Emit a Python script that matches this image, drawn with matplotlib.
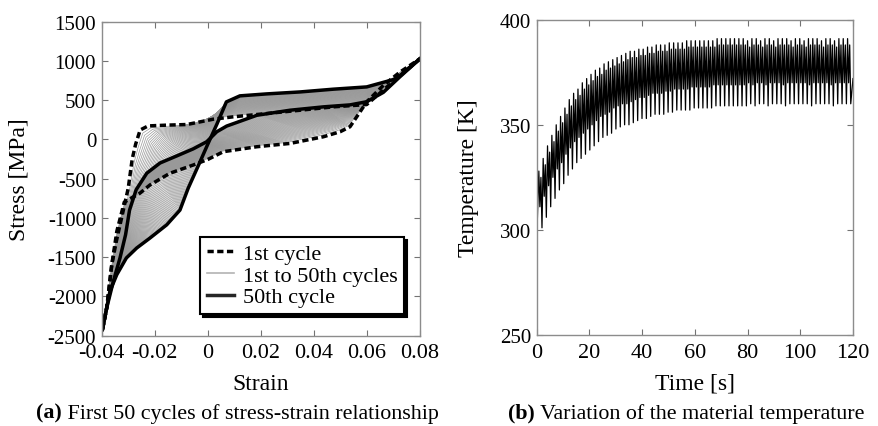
import numpy as np
import matplotlib
matplotlib.use('Agg')
import matplotlib.pyplot as plt

plt.rcParams['font.family'] = ['Liberation Serif', 'DejaVu Serif']
plt.rcParams['axes.unicode_minus'] = False

# ---- (a) stress-strain, 1st and 50th cycle ----
# upper branch: from max tension down to max compression
c1_up_strain = [0.08, 0.07, 0.0599, 0.0473, 0.0348, 0.0222, 0.0096, 0.0021, -0.0079, -0.0155,
                -0.0225, -0.0255, -0.0272, -0.0285, -0.030, -0.0325, -0.0345, -0.0362, -0.0381, -0.0397]
c1_up_stress = [1028, 740, 444, 415, 372, 330, 288, 258, 190, 182,
                172, 120, -60, -250, -622, -1000, -1300, -1595, -2145, -2420]
c50_up_strain = [0.08, 0.0712, 0.0599, 0.0473, 0.0348, 0.0222, 0.0121, 0.007, 0.0035, 0.0,
                 -0.0029, -0.0074, -0.0105, -0.0155, -0.0218, -0.0268, -0.0307, -0.0343, -0.0369, -0.0397]
c50_up_stress = [1028, 774, 669, 640, 605, 580, 555, 478, 200, -60,
                 -283, -622, -900, -1088, -1256, -1383, -1510, -1722, -1933, -2420]
# lower branch: from max compression back up to max tension
c1_lo_strain = [-0.0397, -0.0381, -0.0362, -0.0343, -0.0315, -0.0285, -0.0256, -0.0218, -0.0143, -0.0055, 0.0,
                0.0059, 0.0185, 0.031, 0.0436, 0.0499, 0.0536, 0.0574, 0.0599, 0.0662, 0.0725, 0.08]
c1_lo_stress = [-2420, -2145, -1595, -1171, -800, -740, -685, -580, -431, -326, -255,
                -156, -93, -51, 34, 98, 161, 351, 478, 689, 859, 1028]
c50_lo_strain = [-0.0397, -0.0381, -0.0356, -0.0331, -0.0310, -0.0295, -0.0270, -0.023, -0.018, -0.0117, -0.0055,
                 -0.0004, 0.0034, 0.0071, 0.0185, 0.031, 0.0436, 0.0536, 0.0599, 0.0662, 0.0725, 0.08]
c50_lo_stress = [-2420, -2145, -1806, -1510, -1214, -900, -640, -430, -300, -210, -120,
                 -29, 98, 170, 308, 372, 415, 440, 480, 600, 800, 1028]

# ---- (b) temperature: peak / trough of each spike ----
spike_high = [328, 334, 340, 345, 350, 354, 358, 362, 365, 367, 370, 372,
              374, 376, 377, 379, 380, 381, 382, 383, 384, 385, 385, 386,
              386, 387, 387, 388, 388, 388, 389, 389, 389, 389, 390, 390,
              390, 390, 390, 390, 390, 391, 391, 391, 391, 391, 391, 391,
              390, 391, 391, 390, 391, 391, 390, 391, 391, 391, 390, 391,
              391, 390, 391, 391, 391, 390, 391, 391, 390, 391, 391, 391]
spike_low = [301, 306, 311, 315, 319, 322, 326, 329, 332, 334, 336, 338,
             340, 342, 344, 345, 346, 348, 349, 350, 350, 351, 352, 353,
             353, 354, 355, 355, 355, 356, 356, 357, 357, 357, 357, 358,
             358, 358, 358, 358, 359, 359, 359, 359, 359, 359, 359, 359,
             360, 359, 360, 360, 359, 360, 360, 360, 359, 360, 360, 360,
             360, 360, 359, 360, 360, 360, 360, 359, 360, 360, 360, 360]
spike_time = np.arange(len(spike_high)) * 1.65 + 0.8

fig = plt.figure(figsize=(8.79, 4.27), dpi=100)
ax1 = fig.add_axes([0.1157, 0.2115, 0.3621, 0.7354])
ax2 = fig.add_axes([0.6106, 0.2131, 0.3598, 0.7384])

# gray cycles in between, blended from the 1st to the 50th
a_up = np.column_stack([c1_up_strain, c1_up_stress])
b_up = np.column_stack([c50_up_strain, c50_up_stress])
a_lo = np.column_stack([c1_lo_strain, c1_lo_stress])
b_lo = np.column_stack([c50_lo_strain, c50_lo_stress])
for k in range(2, 50):
    w = ((k - 1) / 49.0) ** 0.75
    up = (1 - w) * a_up + w * b_up
    lo = (1 - w) * a_lo + w * b_lo
    ax1.plot(up[:, 0], up[:, 1], color='0.6', lw=0.5)
    ax1.plot(lo[:, 0], lo[:, 1], color='0.6', lw=0.5)

ax1.plot(c1_up_strain, c1_up_stress, color='k', lw=2.5, ls=(0, (1.8, 1.0)))
ax1.plot(c1_lo_strain, c1_lo_stress, color='k', lw=2.5, ls=(0, (1.8, 1.0)))
ax1.plot(c50_up_strain, c50_up_stress, color='k', lw=2.5)
ax1.plot(c50_lo_strain, c50_lo_stress, color='k', lw=2.5)

ax1.plot([], [], color='k', lw=2.5, ls=(0, (1.8, 1.0)), label='1st cycle')
ax1.plot([], [], color='0.7', lw=1.2, label='1st to 50th cycles')
ax1.plot([], [], color='0.15', lw=2.5, label='50th cycle')
handles, labels = ax1.get_legend_handles_labels()
leg = ax1.legend(handles[-3:], labels[-3:], loc='lower right', bbox_to_anchor=(0.95, 0.069),
                 borderaxespad=0, fontsize=16, handlelength=1.2, handletextpad=0.4,
                 labelspacing=0.05, borderpad=0.3, fancybox=False,
                 shadow={'color': 'k', 'alpha': 1})
leg.get_frame().set_edgecolor('k')
leg.get_frame().set_linewidth(1.5)

ax1.set_xlim(-0.04, 0.08)
ax1.set_ylim(-2500, 1500)
ax1.set_xticks([-0.04, -0.02, 0, 0.02, 0.04, 0.06, 0.08])
ax1.set_xticklabels(['-0.04', '-0.02', '0', '0.02', '0.04', '0.06', '0.08'])
ax1.set_yticks(range(-2500, 1501, 500))
ax1.set_xlabel('Strain', fontsize=17)
ax1.set_ylabel('Stress [MPa]', fontsize=17)
ax1.yaxis.set_label_coords(-0.228, 0.5)
ax1.xaxis.set_label_coords(0.5, -0.118)

# temperature trace: two up-down strokes per spike
temp_t = [0.0]
temp_v = [295]
for i in range(len(spike_high)):
    t0 = spike_time[i]
    temp_t += [t0, t0 + 0.4, t0 + 0.8, t0 + 1.2]
    temp_v += [spike_high[i], spike_low[i] + 10, spike_high[i] - 3, spike_low[i]]
temp_t.append(120)
temp_v.append(372)
ax2.plot(temp_t, temp_v, color='k', lw=0.9)

ax2.set_xlim(0, 120)
ax2.set_ylim(250, 400)
ax2.set_xticks(range(0, 121, 20))
ax2.set_yticks([250, 300, 350, 400])
ax2.set_xlabel('Time [s]', fontsize=17)
ax2.set_ylabel('Temperature [K]', fontsize=17)
ax2.yaxis.set_label_coords(-0.183, 0.5)
ax2.xaxis.set_label_coords(0.5, -0.119)

for ax in (ax1, ax2):
    for s in ax.spines.values():
        s.set_color('0.55')
        s.set_linewidth(1.0)
    ax.tick_params(direction='in', top=True, right=True, length=4, color='0.45', width=0.8)
    ax.tick_params(axis='x', labelsize=16, pad=5.5)
    ax.tick_params(axis='y', labelsize=15, pad=4)

t1 = fig.text(0.041, 0.008, '(a)', fontsize=15.8, fontweight='bold', va='bottom')
ax1.annotate(' First 50 cycles of stress-strain relationship', xy=(1, 0), xycoords=t1,
             fontsize=15.8, va='bottom', ha='left', annotation_clip=False)
t2 = fig.text(0.578, 0.008, '(b)', fontsize=15.8, fontweight='bold', va='bottom')
ax2.annotate(' Variation of the material temperature', xy=(1, 0), xycoords=t2,
             fontsize=15.8, va='bottom', ha='left', annotation_clip=False)

fig.savefig('out.png', dpi=100)
